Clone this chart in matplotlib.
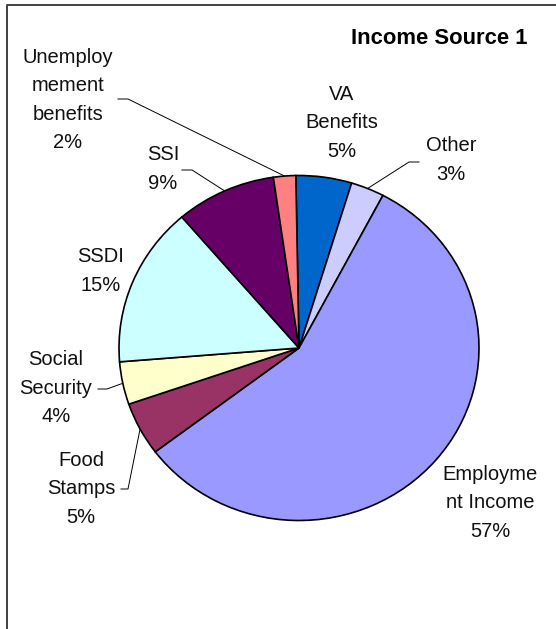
import numpy as np
import matplotlib.pyplot as plt

# pie data (clockwise from 12 o'clock, as in the Excel chart)
sources = ['VA Benefits', 'Other', 'Employment Income', 'Food Stamps',
           'Social Security', 'SSDI', 'SSI', 'Unemploy mement benefits']
percent = [5, 3, 57, 5, 4, 15, 9, 2]
colors = ['#0066CC', '#CCCCFF', '#9999FF', '#993366',
          '#FFFFCC', '#CCFFFF', '#660066', '#FF8080']
label_text = ['VA\nBenefits', 'Other', 'Employme\nnt Income', 'Food\nStamps',
              'Social\nSecurity', 'SSDI', 'SSI', 'Unemploy\nmement\nbenefits']

# label centers (pixels) and leader elbows (None = no leader)
label_pos = [(342, 123), (451, 160), (490, 503), (81, 489),
             (56, 388), (101, 271), (163, 169), (68, 100)]
elbows = [None, [(419, 162), (409, 162)], None, [(121, 489), (128, 489)],
          [(98, 389), (107, 389)], None, [(182, 170), (192, 170)],
          [(118, 99), (128, 99)]]

W, H = 556, 629
cx, cy, rx, ry = 299, 348, 180, 172.5

plt.rcParams['font.family'] = ['Liberation Sans', 'DejaVu Sans']
fig = plt.figure(figsize=(W / 100, H / 100), dpi=100)

# overlay axes in pixel coordinates
ax = fig.add_axes([0, 0, 1, 1])
ax.set_xlim(0, W)
ax.set_ylim(H, 0)
ax.axis('off')

# pie axes sized to the (slightly squashed) pie
pax = fig.add_axes([(cx - rx) / W, (H - cy - ry) / H, 2 * rx / W, 2 * ry / H])
wedges, _ = pax.pie(percent, colors=colors, startangle=91, counterclock=False,
                    wedgeprops=dict(edgecolor='black', linewidth=1.2))
pax.set_aspect('auto')
pax.set_xlim(-1, 1)
pax.set_ylim(-1, 1)
pax.axis('off')

for w, txt, pos, elb, p in zip(wedges, label_text, label_pos, elbows, percent):
    ax.text(pos[0], pos[1], f'{txt}\n{p}%', ha='center', va='center',
            fontsize=14.5, linespacing=1.62, color='#111111', zorder=5)
    if elb is not None:
        a = np.radians((w.theta1 + w.theta2) / 2)
        ex = cx + rx * np.cos(a)
        ey = cy - ry * np.sin(a)
        xs = [elb[0][0], elb[1][0], ex]
        ys = [elb[0][1], elb[1][1], ey]
        ax.plot(xs, ys, color='black', lw=0.7, zorder=4)

ax.text(439, 38, 'Income Source 1', ha='center', va='center',
        fontsize=15.8, fontweight='bold', color='black')

# chart area frame: only top and left edges are visible
ax.plot([7, 7, W], [H, 4.5, 4.5], color='#333333', lw=1.3, solid_capstyle='butt')

fig.savefig('out.png', dpi=100)
